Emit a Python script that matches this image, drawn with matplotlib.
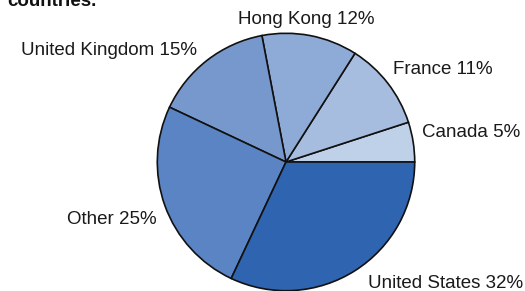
import matplotlib
matplotlib.use("Agg")
import matplotlib.pyplot as plt

categories = ["Canada", "France", "Hong Kong", "United Kingdom", "Other", "United States"]
values = [5, 11, 12, 15, 25, 32]
colors = ["#bfd0e9", "#a7bde0", "#8eaad6", "#7798cd", "#5a84c3", "#2f64b0"]

W, H = 525, 291
fig = plt.figure(figsize=(W / 100, H / 100), dpi=100)
plt.rcParams['font.family'] = ['Liberation Sans', 'DejaVu Sans']

cx, cy, r = 286, 162, 130
ax = fig.add_axes([(cx - r) / W, (H - cy - r) / H, 2 * r / W, 2 * r / H])
ax.pie(values, colors=colors, startangle=0, counterclock=True, radius=1,
       wedgeprops=dict(edgecolor="#111111", linewidth=1.2))
ax.set_xlim(-1.01, 1.01)
ax.set_ylim(-1.01, 1.01)
ax.set_aspect('equal')
ax.axis('off')

# label positions in pixels (x, y, ha)
label_pos = [(422, 133, 'left'), (393, 70, 'left'), (306, 20, 'center'),
             (197, 50, 'right'), (157, 220, 'right'), (523, 283, 'right')]
for cat, v, (x, y, ha) in zip(categories, values, label_pos):
    fig.text(x / W, 1 - y / H, f"{cat} {v}%", ha=ha, va='center',
             fontsize=13.5, color="#1a1a1a")

fig.text(7 / W, 1 - 6 / H, "countries.", ha='left', va='baseline',
         fontsize=13.5, fontweight='bold', color="#111111")

fig.savefig("out.png", dpi=100)
